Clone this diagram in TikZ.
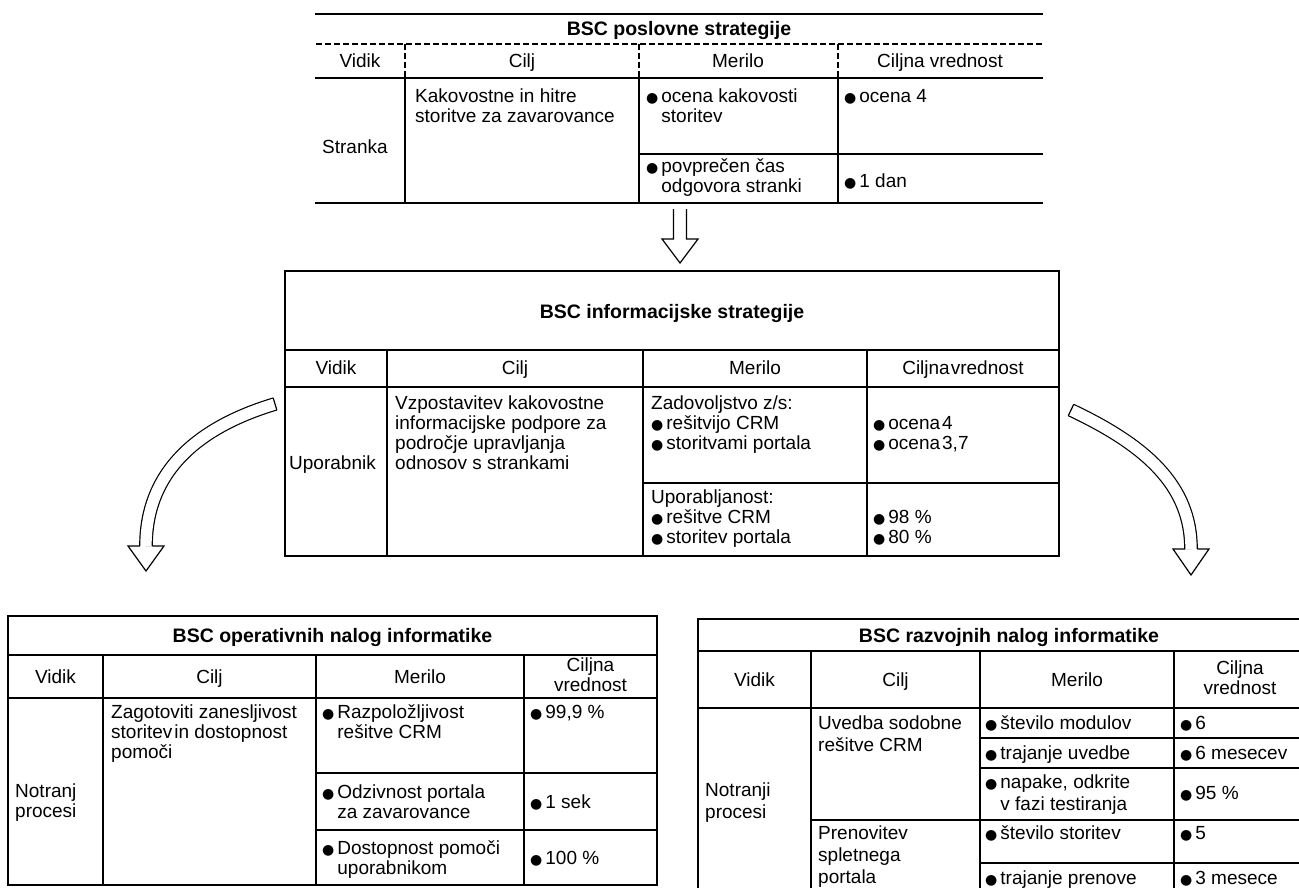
\documentclass[tikz,border=0pt]{standalone}
\usepackage{fontspec}
\setmainfont{Liberation Sans}
\newfontfamily\dejavu{DejaVu Sans}
\newcommand{\bulg}{{\dejavu\fontsize{14}{14}\selectfont ●}}
\newcommand{\bul}{\makebox[0.8em][l]{\bulg}}
\newcommand{\ind}{\hspace*{0.8em}}
\newcommand{\Ltext}[1]{\vtop{\halign{##\hfil\cr#1\crcr}}}
\newcommand{\Ctext}[1]{\vtop{\halign{\hfil##\hfil\cr#1\crcr}}}
\tikzset{
  tl/.style={line width=1.5pt, line cap=rect},
  hd/.style={line width=1.1pt, dash pattern=on 6pt off 3pt},
  tx/.style={inner sep=0pt, font=\fontsize{19}{20}\selectfont, anchor=base west},
  txr/.style={inner sep=0pt, font=\fontsize{19}{22}\selectfont, anchor=base west},
  txc/.style={inner sep=0pt, font=\fontsize{19}{20}\selectfont, anchor=base},
  ttl/.style={inner sep=0pt, font=\fontsize{19.5}{20}\selectfont\bfseries, anchor=base},
  arr/.style={line width=1.2pt, line join=miter},
  harr/.style={arr, double=white, double distance=11.3pt},
}
\begin{document}
\begin{tikzpicture}[x=1pt,y=-1pt]
\useasboundingbox (0,0) rectangle (1299,888);

% ---------------- top table ----------------
\draw[tl] (316,14) -- (1042,14);
\draw[hd] (316,44) -- (1042,44);
\draw[tl] (316,78) -- (1042,78);
\draw[tl] (639,154) -- (1042,154);
\draw[tl] (316,203) -- (1042,203);
\foreach \x in {405,639,838} {
  \draw[hd] (\x,44) -- (\x,78);
  \draw[tl] (\x,78) -- (\x,203);
}
\node[ttl] (Ttitle) at (679,36) {BSC poslovne strategije};
\node[txc] (Th1) at (360,67.5) {Vidik};
\node[txc] (Th2) at (522,67.5) {Cilj};
\node[txc] (Th3) at (738,67.5) {Merilo};
\node[txc] (Th4) at (940,67.5) {Ciljna vrednost};
\node[tx] (Tv) at (322,154) {Stranka};
\node[tx] (Tc) at (415,103) {\Ltext{Kakovostne in hitre\cr storitve za zavarovance}};
\node[tx] (Tm1) at (646,103) {\Ltext{\bul ocena kakovosti\cr\ind storitev}};
\node[tx] (Tt1) at (844,103) {\bul ocena 4};
\node[tx] (Tm2) at (646,173) {\Ltext{\bul povprečen čas\cr\ind odgovora stranki}};
\node[tx] (Tt2) at (844,188) {\bul 1 dan};

% ---------------- arrow top -> middle ----------------
\coordinate (A1a) at (673.5,209);
\coordinate (A1b) at (686.5,209);
\draw[arr] (A1a) -- (673.5,239) -- (662,239) -- (680,263) -- (698,239) -- (686.5,239) -- (A1b);

% ---------------- middle table ----------------
\draw[tl] (285,271) rectangle (1059,556);
\draw[tl] (285,350) -- (1059,350);
\draw[tl] (285,387) -- (1059,387);
\draw[tl] (643,483) -- (1059,483);
\foreach \x in {387,643,867} \draw[tl] (\x,350) -- (\x,556);
\node[ttl] (Mtitle) at (672,318) {BSC informacijske strategije};
\node[txc] (Mh1) at (336,374) {Vidik};
\node[txc] (Mh2) at (515,374) {Cilj};
\node[txc] (Mh3) at (755,374) {Merilo};
\node[txc] (Mh4) at (963,374) {Ciljna\kern1pt vrednost};
\node[tx] (Mv) at (289,469) {Uporabnik};
\node[tx] (Mc) at (395,409) {\Ltext{Vzpostavitev kakovostne\cr informacijske podpore za\cr področje upravljanja\cr odnosov s strankami}};
\node[tx] (Mm1) at (651,409) {\Ltext{Zadovoljstvo z/s:\cr \bul rešitvijo CRM\cr \bul storitvami portala}};
\node[tx] (Mt1) at (873,429) {\Ltext{\bul ocena\kern2pt 4\cr \bul ocena\kern2pt 3,7}};
\node[tx] (Mm2) at (651,503) {\Ltext{Uporabljanost:\cr \bul rešitve CRM\cr \bul storitev portala}};
\node[tx] (Mt2) at (873,523) {\Ltext{\bul 98 \%\cr \bul 80 \%}};

% ---------------- curved arrows ----------------
\coordinate (LAs) at (275,404);
\coordinate (LAe) at (146,546);
\draw[harr] (LAs) .. controls (200,426.5) and (146,470) .. (LAe);
\draw[arr] (273.2,398.0) -- (276.8,410.0);
\draw[arr] (139.75,546) -- (128,546) -- (146,571) -- (164,546) -- (152.25,546);

\coordinate (RAs) at (1071,410);
\coordinate (RAe) at (1191,549);
\draw[harr] (RAs) .. controls (1145,445) and (1191,485) .. (RAe);
\draw[arr] (1073.7,404.35) -- (1068.3,415.65);
\draw[arr] (1184.75,549) -- (1173,549) -- (1191,575) -- (1209,549) -- (1197.25,549);

% ---------------- bottom-left table ----------------
\draw[tl] (8,616) rectangle (657,885);
\draw[tl] (8,655) -- (657,655);
\draw[tl] (8,698) -- (657,698);
\foreach \x in {103,316,524} \draw[tl] (\x,655) -- (\x,885);
\draw[tl] (316,773) -- (657,773);
\draw[tl] (316,830) -- (657,830);
\node[ttl] (Ltitle) at (332.5,642) {BSC operativnih nalog informatike};
\node[txc] (Lh1) at (55.5,683) {Vidik};
\node[txc] (Lh2) at (209.5,683) {Cilj};
\node[txc] (Lh3) at (420,683) {Merilo};
\node[txc] (Lh4) at (590.5,671) {\Ctext{Ciljna\cr vrednost}};
\node[tx] (Lv) at (15,797) {\Ltext{Notranj\cr procesi}};
\node[tx] (Lc) at (111,718) {\Ltext{Zagotoviti zanesljivost\cr storitev\kern2pt in dostopnost\cr pomoči}};
\node[tx] (Lm1) at (322,718) {\Ltext{\bul Razpoložljivost\cr\ind rešitve CRM}};
\node[tx] (Lm2) at (322,798) {\Ltext{\bul Odzivnost portala\cr\ind za zavarovance}};
\node[tx] (Lm3) at (322,854) {\Ltext{\bul Dostopnost pomoči\cr\ind uporabnikom}};
\node[tx] (Lt1) at (530,718) {\bul 99,9 \%};
\node[tx] (Lt2) at (530,808) {\bul 1 sek};
\node[tx] (Lt3) at (530,864) {\bul 100 \%};

% ---------------- bottom-right table ----------------
\draw[tl] (698,619) -- (1299,619);
\draw[tl] (698,619) -- (698,888);
\draw[tl] (698,651) -- (1299,651);
\draw[tl] (698,708) -- (1299,708);
\foreach \x in {811,980,1174} \draw[tl] (\x,651) -- (\x,888);
\draw[tl] (980,738) -- (1299,738);
\draw[tl] (980,768) -- (1299,768);
\draw[tl] (811,820) -- (1299,820);
\draw[tl] (980,863) -- (1299,863);
\node[ttl] (Rtitle) at (1009,642) {BSC razvojnih nalog informatike};
\node[txc] (Rh1) at (754.5,686) {Vidik};
\node[txc] (Rh2) at (895.5,686) {Cilj};
\node[txc] (Rh3) at (1077,686) {Merilo};
\node[txc] (Rh4) at (1240,674) {\Ctext{Ciljna\cr vrednost}};
\node[txr] (Rv) at (705,796) {\Ltext{Notranji\cr procesi}};
\node[txr] (Rc1) at (818,729) {\Ltext{Uvedba sodobne\cr rešitve CRM}};
\node[txr] (Rc2) at (818,839) {\Ltext{Prenovitev\cr spletnega\cr portala}};
\node[txr] (Rm1) at (985,729) {\bul število modulov};
\node[txr] (Rm2) at (985,759) {\bul trajanje uvedbe};
\node[txr] (Rm3) at (985,788) {\Ltext{\bul napake, odkrite\cr\ind v fazi testiranja}};
\node[txr] (Rm4) at (985,839) {\bul število storitev};
\node[txr] (Rm5) at (985,884) {\bul trajanje prenove};
\node[txr] (Rt1) at (1180,729) {\bul 6};
\node[txr] (Rt2) at (1180,759) {\bul 6 mesecev};
\node[txr] (Rt3) at (1180,799) {\bul 95 \%};
\node[txr] (Rt4) at (1180,839) {\bul 5};
\node[txr] (Rt5) at (1180,884) {\bul 3 mesece};
\end{tikzpicture}
\end{document}
